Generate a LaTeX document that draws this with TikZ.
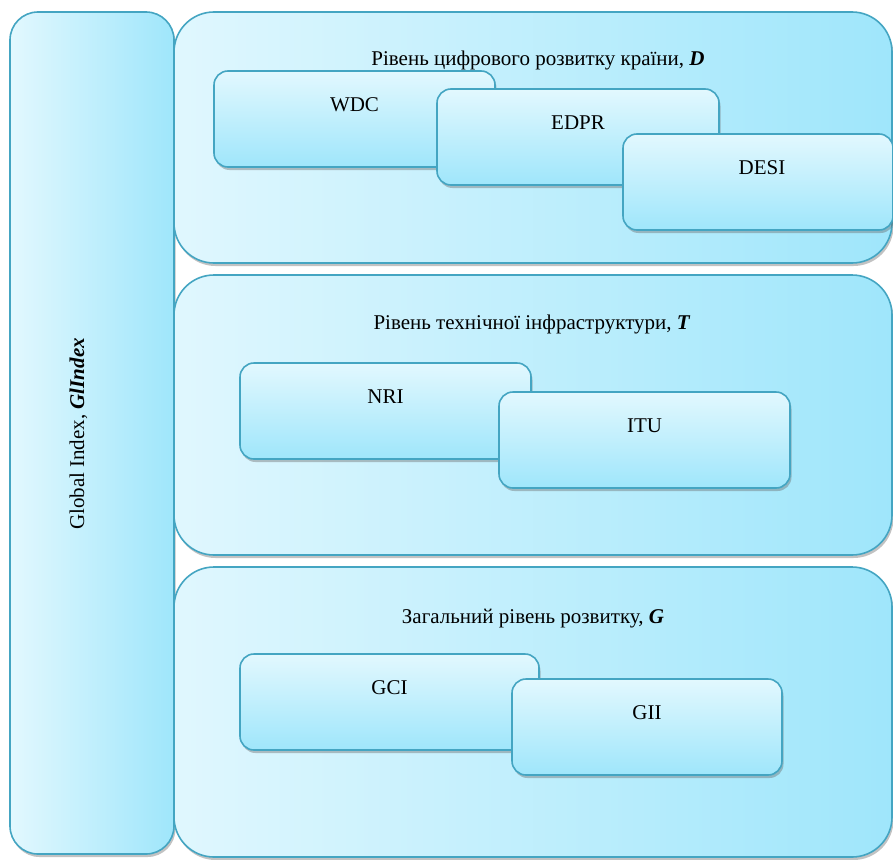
\documentclass[tikz,border=0pt]{standalone}
\usepackage{fontspec}
\setmainfont{Liberation Serif}
\newfontfamily\tnr{Liberation Serif}
\usetikzlibrary{positioning,shadows}
\definecolor{boxline}{HTML}{44A5C2}
\definecolor{boxlight}{HTML}{E2F8FE}
\definecolor{boxdark}{HTML}{9FE6FB}
\definecolor{panellight}{HTML}{E0F7FE}

\begin{document}
\begin{tikzpicture}[x=1pt, y=-1pt,
        every node/.style={font=\tnr\fontsize{21}{25}\selectfont, inner sep=0pt, outer sep=0pt},
        softshadow/.style={drop shadow={shadow xshift=1.5pt, shadow yshift=-3pt, opacity=0.4, fill=black!60}},
        sidebar/.style={draw=boxline, line width=1.6pt, rounded corners=28pt, left color=boxlight, right color=boxdark, softshadow, anchor=north west, minimum width=164pt, minimum height=842pt},
        panel/.style={draw=boxline, line width=1.6pt, rounded corners=40pt, left color=panellight, right color=boxdark, softshadow, anchor=north west, minimum width=718pt},
        card/.style={draw=boxline, line width=1.6pt, rounded corners=14pt, top color=boxlight, bottom color=boxdark, softshadow, anchor=north west, minimum height=96pt},
        ttl/.style={anchor=base}
      ]
        \useasboundingbox (0,0) rectangle (893,859);
        % left column
        \node[sidebar] (glob) at (10,12) {};
        \node[ttl, rotate=90] (globlbl) at (84,434) {Global Index, \textbf{\textit{GlIndex}}};
        % level D
        \node[panel, minimum height=251pt] (pd) at (174,12) {};
        \node[ttl] (pdlbl) at (538,66) {Рівень цифрового розвитку країни, \textbf{\textit{D}}};
        \node[card, minimum width=281pt] (wdc)  at (214,71)  {};
        \node[below=27pt of wdc.north]  (wdclbl)  {WDC};
        \node[card, minimum width=282pt] (edpr) at (437,89)  {};
        \node[below=27pt of edpr.north] (edprlbl) {EDPR};
        \node[card, minimum width=270pt] (desi) at (623,134) {};
        \node[below=27pt of desi.north, xshift=4pt] (desilbl) {DESI};
        % level T
        \node[panel, minimum height=280pt] (pt) at (174,275) {};
        \node[ttl] (ptlbl) at (532,329) {Рівень технічної інфраструктури, \textbf{\textit{T}}};
        \node[card, minimum width=291pt] (nri) at (240,363) {};
        \node[below=27pt of nri.north] (nrilbl) {NRI};
        \node[card, minimum width=291pt] (itu) at (499,392) {};
        \node[below=27pt of itu.north] (itulbl) {ITU};
        % level G
        \node[panel, minimum height=290pt] (pg) at (174,567) {};
        \node[ttl] (pglbl) at (533,623) {Загальний рівень розвитку, \textbf{\textit{G}}};
        \node[card, minimum width=299pt] (gci) at (240,654) {};
        \node[below=27pt of gci.north] (gcilbl) {GCI};
        \node[card, minimum width=270pt] (gii) at (512,679) {};
        \node[below=27pt of gii.north] (giilbl) {GII};
      \end{tikzpicture}
\end{document}
